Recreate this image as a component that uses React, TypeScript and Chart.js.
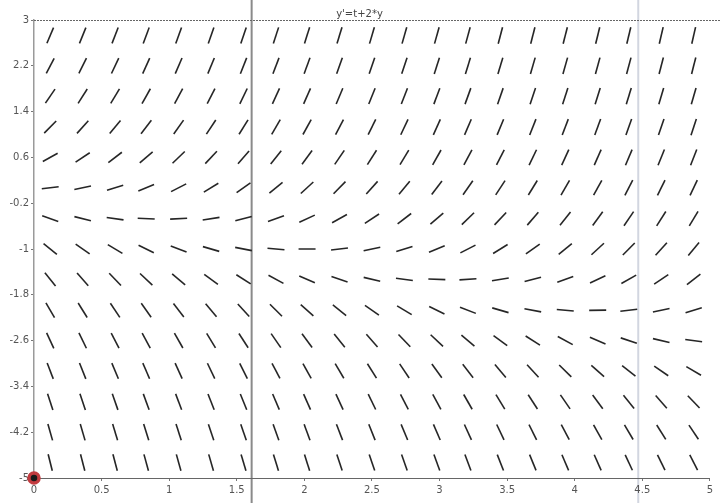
import React, { useEffect, useRef } from "react";
import { Chart, registerables } from "chart.js";

Chart.register(...registerables);

// Grid of sample points of the direction field (t, y)
const T_VALUES = [0.12, 0.36, 0.6, 0.83, 1.07, 1.31, 1.55, 1.79, 2.02, 2.26, 2.5, 2.74, 2.98, 3.21, 3.45, 3.69, 3.93, 4.17, 4.4, 4.64, 4.88];
const Y_VALUES = [-4.73, -4.2, -3.67, -3.13, -2.6, -2.07, -1.53, -1.0, -0.47, 0.07, 0.6, 1.13, 1.67, 2.2, 2.73];
// Axis ticks
const X_TICKS = [0, 0.5, 1, 1.5, 2, 2.5, 3, 3.5, 4, 4.5, 5];
const Y_TICKS = [-5, -4.2, -3.4, -2.6, -1.8, -1, -0.2, 0.6, 1.4, 2.2, 3];
// Initial point marker
const INITIAL_POINT = [{ x: 0, y: -5 }];
// Vertical scan artefact lines (in t units)
const SCAN_LINES = [
  { t: 1.61, color: "#8a8a8a", width: 2 },
  { t: 4.47, color: "#d2d6e0", width: 2 },
];
const TITLE = "y'=t+2*y";
// ODE given by the title: y' = t + 2*y
const slope = (t: number, y: number) => t + 2 * y;

const fieldPoints = Y_VALUES.flatMap((y) => T_VALUES.map((t) => ({ x: t, y, m: slope(t, y) })));

const extrasPlugin = {
  id: "extras",
  beforeDraw(chart: any) {
    const { ctx } = chart;
    const sx = chart.scales.x;
    ctx.save();
    SCAN_LINES.forEach((l) => {
      const px = sx.getPixelForValue(l.t);
      ctx.strokeStyle = l.color;
      ctx.lineWidth = l.width;
      ctx.beginPath();
      ctx.moveTo(px, 0);
      ctx.lineTo(px, chart.height);
      ctx.stroke();
    });
    ctx.restore();
  },
  afterDraw(chart: any) {
    const { ctx, chartArea } = chart;
    ctx.save();
    ctx.strokeStyle = "#666";
    ctx.lineWidth = 1;
    ctx.setLineDash([2, 1]);
    ctx.beginPath();
    ctx.moveTo(chartArea.left, chartArea.top + 0.5);
    ctx.lineTo(chart.width, chartArea.top + 0.5);
    ctx.stroke();
    ctx.restore();
  },
};

export default function App() {
  const ref = useRef<HTMLCanvasElement | null>(null);
  useEffect(() => {
    document.body.style.margin = "0";
    const canvas = ref.current!;
    const font = { family: "DejaVu Sans", size: 10 };
    const chart = new Chart(canvas, {
      type: "scatter",
      data: {
        datasets: [
          {
            data: fieldPoints as any,
            pointStyle: "line",
            pointRadius: 8.5,
            pointBorderWidth: 1.6,
            pointBorderColor: "#262626",
            pointBackgroundColor: "#262626",
            rotation: (ctx: any) => {
              const raw = ctx.raw;
              if (!raw) return 0;
              const sx = ctx.chart.scales.x;
              const sy = ctx.chart.scales.y;
              const ppx = sx.getPixelForValue(1) - sx.getPixelForValue(0);
              const ppy = sy.getPixelForValue(0) - sy.getPixelForValue(1);
              return (-Math.atan((raw.m * ppy) / ppx) * 180) / Math.PI;
            },
          } as any,
          {
            data: INITIAL_POINT,
            pointStyle: "circle",
            pointRadius: 5,
            pointBorderWidth: 3.5,
            pointBorderColor: "#c23b3f",
            pointBackgroundColor: "#1a1a1a",
            clip: false,
          } as any,
        ],
      },
      options: {
        animation: false,
        responsive: true,
        maintainAspectRatio: false,
        events: [],
        layout: { padding: { left: 0, right: 1, top: 0, bottom: 0 } },
        plugins: {
          legend: { display: false },
          tooltip: { enabled: false },
          title: {
            display: true,
            text: TITLE,
            color: "#444",
            font: { family: "DejaVu Sans", size: 10, weight: "normal" },
            padding: { top: 8, bottom: 0 },
          },
        },
        scales: {
          x: {
            type: "linear",
            min: 0,
            max: 5,
            afterBuildTicks: (s: any) => {
              s.ticks = X_TICKS.map((v) => ({ value: v }));
            },
            afterFit: (s: any) => {
              s.height = 25;
              s.paddingLeft = 0;
              s.paddingRight = 0;
            },
            ticks: {
              color: "#555",
              font,
              padding: 3,
              maxRotation: 0,
              autoSkip: false,
              callback: (v: any) => String(v),
            },
            grid: { drawOnChartArea: false, drawTicks: true, tickLength: 3, color: "#777" },
            border: { display: true, color: "#666", width: 1, dash: [2, 1] },
          },
          y: {
            type: "linear",
            min: -5,
            max: 3,
            afterBuildTicks: (s: any) => {
              s.ticks = Y_TICKS.map((v) => ({ value: v }));
            },
            afterFit: (s: any) => {
              s.width = 34;
              s.paddingTop = 0;
              s.paddingBottom = 0;
            },
            ticks: {
              color: "#555",
              font,
              padding: 2,
              autoSkip: false,
              callback: (v: any) => String(v),
            },
            grid: { drawOnChartArea: false, drawTicks: true, tickLength: 3, color: "#777" },
            border: { display: true, color: "#9a9a9a", width: 1.5 },
          },
        },
      } as any,
      plugins: [extrasPlugin],
    });
    return () => chart.destroy();
  }, []);
  return (
    <div style={{ width: 720, height: 503, position: "relative", background: "#fff" }}>
      <canvas ref={ref} />
    </div>
  );
}
